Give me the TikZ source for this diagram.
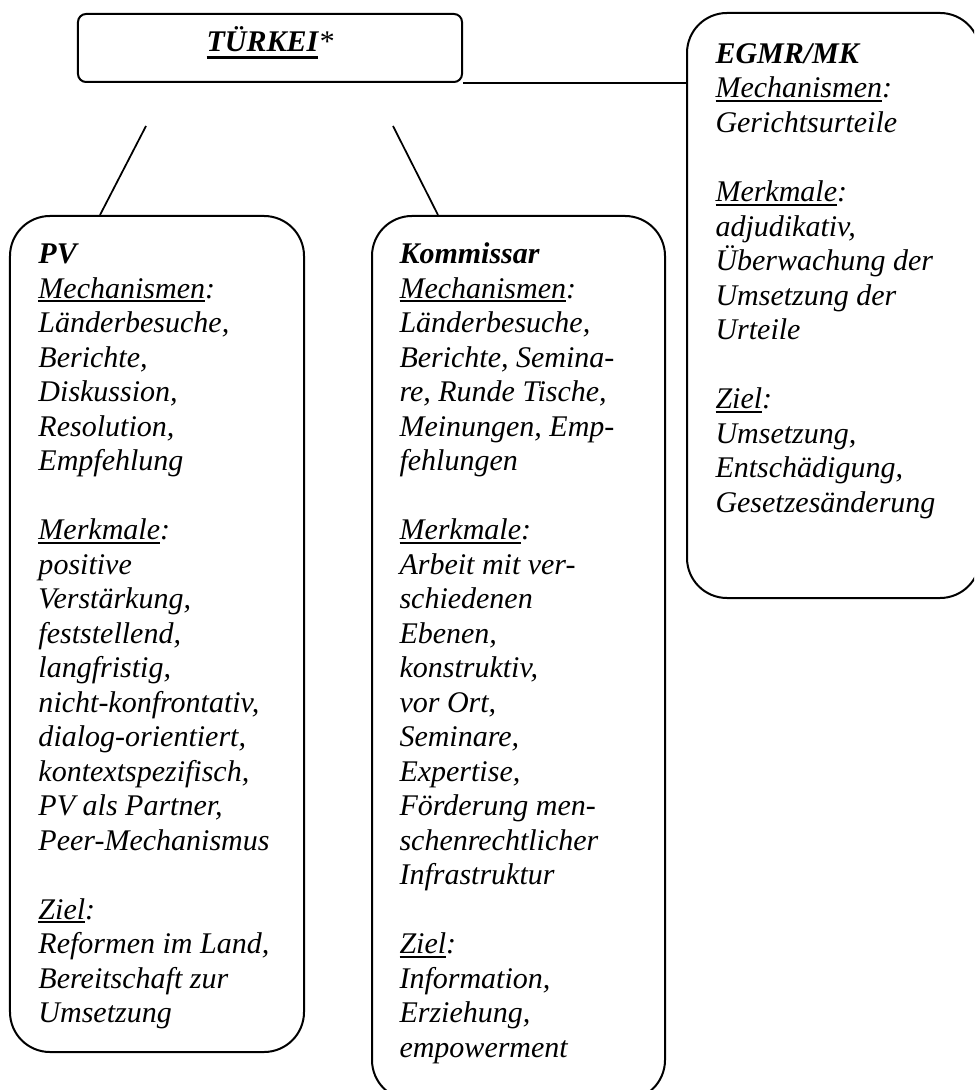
\documentclass[tikz,border=0pt]{standalone}
\usepackage{fontspec}
\setmainfont{Liberation Serif}
\newcommand\bodyul[1]{\setbox0\hbox{#1}\rlap{\rule[-1.6pt]{\wd0}{0.8pt}}\box0}
\newcommand\headul[1]{\setbox0\hbox{#1}\rlap{\rule[-2.9pt]{\wd0}{1.3pt}}\box0}
\begin{document}
\begin{tikzpicture}[x=0.4pt,y=-0.4pt,
  box/.style={draw, line width=0.8pt, rounded corners=16pt, inner sep=0pt},
  headbox/.style={draw, line width=0.8pt, rounded corners=3.2pt, inner sep=0pt},
  txt/.style={anchor=north west, inner sep=0pt, align=left, font=\fontsize{12}{13.8}\selectfont\itshape},
  link/.style={line width=0.7pt}]
\clip (0,0) rectangle (974,1090);
% boxes
\node[headbox, minimum width=153.6pt, minimum height=27.2pt] (tk) at (270,48) {};
\node[box, minimum width=117.6pt, minimum height=334.4pt] (pv) at (157,634) {};
\node[box, minimum width=117.2pt, minimum height=353.6pt] (ko) at (518.5,658) {};
\node[box, minimum width=117.2pt, minimum height=234pt] (eg) at (833.5,305.5) {};
% title
\node[anchor=base, inner sep=0pt, font=\fontsize{12}{13.8}\selectfont\itshape] (tkt) at (270,52) {\textbf{\headul{TÜRKEI}}\textmd{*}};
% connectors
\coordinate (l1) at (146,126);
\coordinate (r1) at (393,126);
\draw[link] (l1) -- ([xshift=36.4pt]pv.north west);
\draw[link] (r1) -- ([xshift=26.8pt]ko.north west);
\draw[link] (tk.south east) -- (tk.south east -| eg.west);
% texts
\node[txt] (pvt) at (38,238.85) {\strut\textbf{PV}\\
\bodyul{Mechanismen}:\\
Länderbesuche,\\
Berichte,\\
Diskussion,\\
Resolution,\\
Empfehlung\\[13.8pt]
\bodyul{Merkmale}:\\
positive\\
Verstärkung,\\
feststellend,\\
langfristig,\\
nicht-konfrontativ,\\
dialog-orientiert,\\
kontextspezifisch,\\
PV als Partner,\\
Peer-Mechanismus\\[13.8pt]
\bodyul{Ziel}:\\
Reformen im Land,\\
Bereitschaft zur\\
Umsetzung};
\node[txt] (kot) at (399,238.85) {\strut\textbf{Kommissar}\\
\bodyul{Mechanismen}:\\
Länderbesuche,\\
Berichte, Semina-\\
re, Runde Tische,\\
Meinungen, Emp-\\
fehlungen\\[13.8pt]
\bodyul{Merkmale}:\\
Arbeit mit ver-\\
schiedenen\\
Ebenen,\\
konstruktiv,\\
vor Ort,\\
Seminare,\\
Expertise,\\
Förderung men-\\
schenrechtlicher\\
Infrastruktur\\[13.8pt]
\bodyul{Ziel}:\\
Information,\\
Erziehung,\\
empowerment};
\node[txt] (egt) at (715,38.85) {\strut\textbf{EGMR/MK}\\
\bodyul{Mechanismen}:\\
Gerichtsurteile\\[13.8pt]
\bodyul{Merkmale}:\\
adjudikativ,\\
Überwachung der\\
Umsetzung der\\
Urteile\\[13.8pt]
\bodyul{Ziel}:\\
Umsetzung,\\
Entschädigung,\\
Gesetzesänderung};
\end{tikzpicture}
\end{document}
